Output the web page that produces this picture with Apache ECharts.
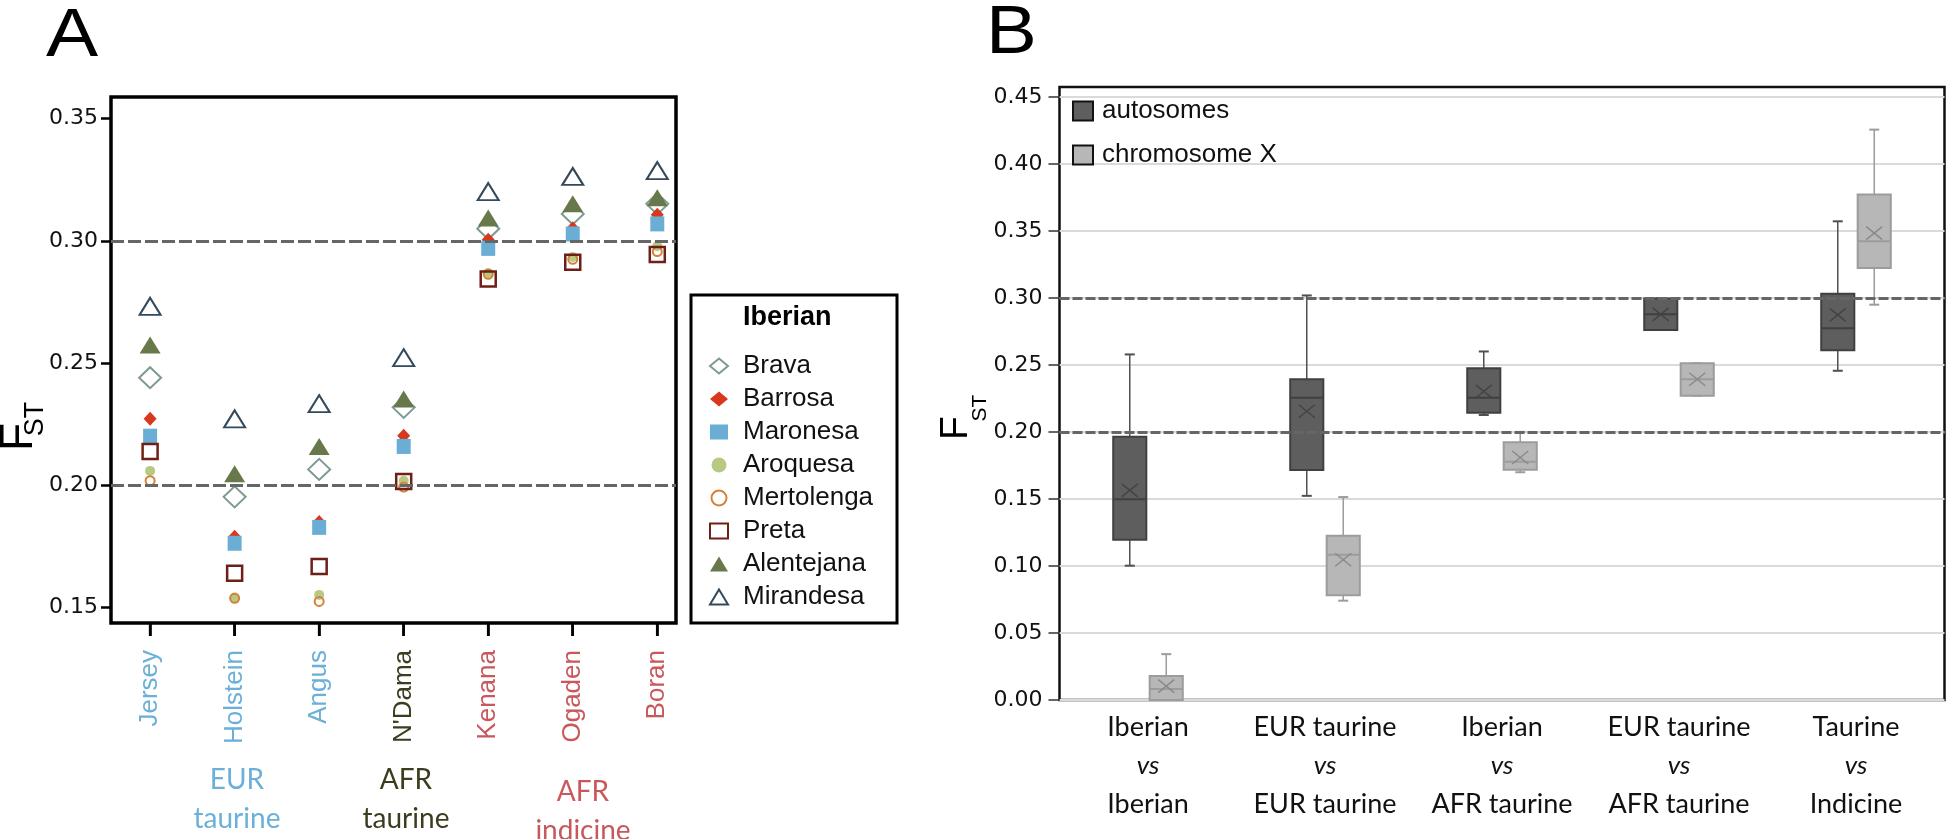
<!DOCTYPE html>
<html><head><meta charset="utf-8">
<script src="https://cdn.jsdelivr.net/npm/echarts@6/dist/echarts.min.js"></script>
<style>html,body{margin:0;padding:0;background:#fff}#c{width:1946px;height:839px}</style>
</head><body><div id="c"></div>
<script>
// ---------- Panel A data ----------
const crossbreeds = ['Jersey', 'Holstein', 'Angus', "N'Dama", 'Kenana', 'Ogaden', 'Boran'];
const crossbreedGroup = [0, 0, 0, 1, 2, 2, 2];
const groupNames = [['EUR', 'taurine'], ['AFR', 'taurine'], ['AFR', 'indicine']];
const iberianBreeds = ['Brava', 'Barrosa', 'Maronesa', 'Aroquesa', 'Mertolenga', 'Preta', 'Alentejana', 'Mirandesa'];
const brava      = [0.2440, 0.1953, 0.2065, 0.2319, 0.3049, 0.3110, 0.3151];
const barrosa    = [0.2272, 0.1790, 0.1850, 0.2203, 0.3004, 0.3051, 0.3106];
const maronesa   = [0.2201, 0.1763, 0.1828, 0.2159, 0.2969, 0.3028, 0.3069];
const aroquesa   = [0.2059, 0.1541, 0.1552, 0.2019, 0.2868, 0.2934, 0.2978];
const mertolenga = [0.2019, 0.1538, 0.1525, 0.1993, 0.2863, 0.2924, 0.2956];
const preta      = [0.2138, 0.1640, 0.1668, 0.2016, 0.2844, 0.2912, 0.2944];
const alentejana = [0.2574, 0.2047, 0.2159, 0.2353, 0.3093, 0.3151, 0.3176];
const mirandesa  = [0.2732, 0.2272, 0.2334, 0.2522, 0.3201, 0.3263, 0.3287];
const fstTicksA = [0.15, 0.20, 0.25, 0.30, 0.35];
const thresholds = [0.20, 0.30];

// ---------- Panel B data ----------
const comparisons = [['Iberian', 'Iberian'], ['EUR taurine', 'EUR taurine'], ['Iberian', 'AFR taurine'], ['EUR taurine', 'AFR taurine'], ['Taurine', 'Indicine']];
// [min, Q1, median, Q3, max, mean]
const autosomes = [
  [0.1002, 0.1196, 0.1498, 0.1963, 0.2578, 0.1564],
  [0.1523, 0.1715, 0.2255, 0.2393, 0.3018, 0.2154],
  [0.2126, 0.2142, 0.2255, 0.2475, 0.2600, 0.2302],
  [0.2760, 0.2760, 0.2877, 0.2996, 0.2996, 0.2877],
  [0.2456, 0.2610, 0.2773, 0.3030, 0.3571, 0.2873]
];
const chromosomeX = [
  [0.0000, 0.0000, 0.0082, 0.0179, 0.0342, 0.0104],
  [0.0741, 0.0782, 0.1083, 0.1225, 0.1514, 0.1046],
  [0.1699, 0.1718, 0.1777, 0.1922, 0.2000, 0.1809],
  [0.2270, 0.2270, 0.2393, 0.2512, 0.2512, 0.2393],
  [0.2949, 0.3222, 0.3423, 0.3771, 0.4255, 0.3483]
];
const fstTicksB = [0, 0.05, 0.10, 0.15, 0.20, 0.25, 0.30, 0.35, 0.40, 0.45];
const seriesNamesB = ['autosomes', 'chromosome X'];

// ---------- styles ----------
const breedValues = [brava, barrosa, maronesa, aroquesa, mertolenga, preta, alentejana, mirandesa];
const breedStyle = [
  {symbol: 'diamond',  size: [22, 21], fill: 'rgba(0,0,0,0)', stroke: '#7f9993', bw: 2},
  {symbol: 'diamond',  size: [13, 14], fill: '#d8391d', stroke: '#d8391d', bw: 0},
  {symbol: 'rect',     size: [14, 15], fill: '#6aaed6', stroke: '#6aaed6', bw: 0},
  {symbol: 'circle',   size: 10,       fill: '#b7c983', stroke: '#b7c983', bw: 0},
  {symbol: 'circle',   size: 9,        fill: 'rgba(0,0,0,0)', stroke: '#d4813a', bw: 2},
  {symbol: 'rect',     size: 15,       fill: 'rgba(0,0,0,0)', stroke: '#6e1f17', bw: 2.5},
  {symbol: 'triangle', size: [21, 17], fill: '#67794b', stroke: '#67794b', bw: 0},
  {symbol: 'triangle', size: [21, 17], fill: 'rgba(0,0,0,0)', stroke: '#34495a', bw: 2}
];
const labelColors = ['#6bb0d8', '#3c3c1e', '#c9585c'];
const sansA = 'Liberation Sans, Arial, sans-serif';
const tickFont = 'DejaVu Sans';
const narrow = 'Lato';

const scatterSeries = iberianBreeds.map((name, k) => ({
  name, type: 'scatter', xAxisIndex: 0, yAxisIndex: 0,
  symbol: breedStyle[k].symbol, symbolSize: breedStyle[k].size,
  itemStyle: {color: breedStyle[k].fill, borderColor: breedStyle[k].stroke, borderWidth: breedStyle[k].bw, opacity: 1},
  data: breedValues[k].map((v, i) => [i, v]),
  z: 3
}));

function boxRenderer(side, fill, stroke, whisker, meanColor) {
  return function (params, api) {
    const c = api.value(0);
    const bw = api.size([1, 0])[0];
    const x = api.coord([c, 0])[0] + side * bw * 0.103;
    const w = bw * 0.187;
    const y = (d) => api.coord([c, api.value(d)])[1];
    const yMin = y(1), yQ1 = y(2), yMed = y(3), yQ3 = y(4), yMax = y(5), yMean = y(6);
    const cap = 5, mx = 8, my = 6.5;
    const ln = (x1, y1, x2, y2, col, lw) => ({type: 'line', shape: {x1, y1, x2, y2}, style: {stroke: col, lineWidth: lw}});
    return {type: 'group', children: [
      ln(x, yMax, x, yQ3, whisker, 1.5),
      ln(x, yQ1, x, yMin, whisker, 1.5),
      ln(x - cap, yMax, x + cap, yMax, whisker, 2),
      ln(x - cap, yMin, x + cap, yMin, whisker, 2),
      {type: 'rect', shape: {x: x - w / 2, y: yQ3, width: w, height: yQ1 - yQ3}, style: {fill, stroke, lineWidth: 2}},
      ln(x - w / 2, yMed, x + w / 2, yMed, stroke, 2),
      ln(x - mx, yMean - my, x + mx, yMean + my, meanColor, 1.5),
      ln(x - mx, yMean + my, x + mx, yMean - my, meanColor, 1.5)
    ]};
  };
}

// category tick marks for panel A (below the plot frame, at each category position)
function tickRenderer(params, api) {
  const x = api.coord([api.value(0), api.value(1)])[0];
  const yb = params.coordSys.y + params.coordSys.height;
  return {type: 'line', shape: {x1: x, y1: yb, x2: x, y2: yb + 13}, style: {stroke: '#000', lineWidth: 2.5}};
}

const chart = echarts.init(document.getElementById('c'), null, {renderer: 'canvas'});
const option = {
  animation: false,
  backgroundColor: '#fff',
  grid: [
    {left: 111, top: 97, width: 565, height: 526, show: true, borderColor: '#000', borderWidth: 3.5, backgroundColor: 'transparent'},
    {left: 1059.5, top: 87, width: 885, height: 613, show: true, borderColor: '#111', borderWidth: 2.5, backgroundColor: 'transparent'},
    {left: 107.84, top: 97, width: 591.6, height: 526, show: false}
  ],
  xAxis: [
    {gridIndex: 0, type: 'value', min: -0.4626, max: 6.2214, show: false},
    {gridIndex: 1, type: 'category', data: comparisons.map(c => c[0]),
      axisLine: {show: false}, axisTick: {show: false}, splitLine: {show: false},
      axisLabel: {margin: 8, interval: 0,
        formatter: (v, i) => '{n|' + comparisons[i][0] + '}\n{v|vs}\n{n|' + comparisons[i][1] + '}',
        rich: {
          n: {fontFamily: narrow, fontSize: 27, color: '#111', lineHeight: 38.5},
          v: {fontFamily: narrow, fontSize: 26, fontStyle: 'italic', color: '#111', lineHeight: 38.5}
        }}
    },
    {gridIndex: 2, type: 'category', data: crossbreeds, boundaryGap: true, position: 'bottom',
      axisLine: {show: false, onZero: false}, splitLine: {show: false},
      axisTick: {show: true, alignWithLabel: true, interval: 0, length: 13, lineStyle: {color: '#000', width: 2.5}},
      axisLabel: {show: true, interval: 0, rotate: 90, margin: 27,
        formatter: (v, i) => '{g' + crossbreedGroup[i] + '|' + v + '}',
        rich: {
          g0: {color: labelColors[0], fontFamily: sansA, fontSize: 26},
          g1: {color: labelColors[1], fontFamily: sansA, fontSize: 26},
          g2: {color: labelColors[2], fontFamily: sansA, fontSize: 26}
        }}
    }
  ],
  yAxis: [
    {gridIndex: 0, type: 'value', min: 0.1437, max: 0.3588, position: 'left',
      axisLine: {show: false, onZero: false}, splitLine: {show: false},
      axisTick: {show: true, customValues: fstTicksA, length: 10, lineStyle: {color: '#000', width: 2.5}},
      axisLabel: {customValues: fstTicksA, margin: 13, formatter: (v) => v.toFixed(2), fontFamily: tickFont, fontSize: 22, color: '#111'}
    },
    {gridIndex: 1, type: 'value', min: 0, max: 0.4573,
      axisLine: {show: false, onZero: false},
      splitLine: {show: true, lineStyle: {color: '#dadada', width: 2}},
      axisTick: {show: true, customValues: fstTicksB, length: 11, lineStyle: {color: '#333', width: 1.5}},
      axisLabel: {customValues: fstTicksB, margin: 17, formatter: (v) => v.toFixed(2), fontFamily: tickFont, fontSize: 22, color: '#111'}
    },
    {gridIndex: 2, type: 'value', min: 0.1437, max: 0.3588, show: false}
  ],
  legend: [
    {data: iberianBreeds, orient: 'vertical', left: 709, top: 353, padding: 0, itemWidth: 18, itemHeight: 15, itemGap: 7,
      selectedMode: false, textStyle: {fontFamily: sansA, fontSize: 26, color: '#111', padding: [0, 0, 0, 10]}},
    {data: [
        {name: seriesNamesB[0], icon: 'rect', itemStyle: {color: '#5e5e5e', borderColor: '#111', borderWidth: 2}},
        {name: seriesNamesB[1], icon: 'rect', itemStyle: {color: '#b7b7b7', borderColor: '#111', borderWidth: 2}}
      ],
      orient: 'vertical', left: 1072, top: 98, padding: 0, itemWidth: 20, itemHeight: 19, itemGap: 18, selectedMode: false,
      textStyle: {fontFamily: sansA, fontSize: 26, color: '#111', padding: [0, 0, 0, 4]}}
  ],
  series: [
    ...scatterSeries,
    {type: 'line', name: 'thrA', xAxisIndex: 0, yAxisIndex: 0, data: [], silent: true,
      markLine: {silent: true, symbol: ['none', 'none'], label: {show: false},
        lineStyle: {color: '#666', width: 3, type: [13, 4]}, data: thresholds.map(v => ({yAxis: v}))}},
    {type: 'custom', name: seriesNamesB[0], xAxisIndex: 1, yAxisIndex: 1,
      itemStyle: {color: '#5e5e5e'},
      renderItem: boxRenderer(-1, '#5e5e5e', '#404040', '#505050', '#444'),
      encode: {x: 0, y: [1, 2, 3, 4, 5]},
      data: autosomes.map((s, i) => [i, ...s]), z: 3},
    {type: 'custom', name: seriesNamesB[1], xAxisIndex: 1, yAxisIndex: 1,
      itemStyle: {color: '#b7b7b7'},
      renderItem: boxRenderer(1, '#b7b7b7', '#9c9c9c', '#9c9c9c', '#8a8a8a'),
      encode: {x: 0, y: [1, 2, 3, 4, 5]},
      data: chromosomeX.map((s, i) => [i, ...s]), z: 3},
    {type: 'line', name: 'thrB', xAxisIndex: 1, yAxisIndex: 1, data: [], silent: true,
      markLine: {silent: true, symbol: ['none', 'none'], label: {show: false},
        lineStyle: {color: '#666', width: 3, type: [10, 3]}, data: thresholds.map(v => ({yAxis: v}))}},
    {type: 'custom', name: 'ticksA', xAxisIndex: 2, yAxisIndex: 2, silent: true, clip: false,
      renderItem: tickRenderer, encode: {x: 0, y: 1},
      data: crossbreeds.map((_, i) => [i, 0.2]), z: 5}
  ],
  graphic: [
    {type: 'text', x: 46, y: 3, scaleX: 1.15, style: {text: 'A', font: '68px ' + sansA, fill: '#000'}},
    {type: 'text', x: 986, y: 0, scaleX: 1.12, style: {text: 'B', font: '68px ' + sansA, fill: '#000'}},
    {type: 'text', x: 42, y: 437, rotation: Math.PI / 2, style: {text: 'F', font: '46px ' + sansA, fill: '#000', align: 'center', verticalAlign: 'bottom'}},
    {type: 'text', x: 49, y: 419, rotation: Math.PI / 2, style: {text: 'ST', font: '27px ' + sansA, fill: '#000', align: 'center', verticalAlign: 'bottom'}},
    {type: 'text', x: 976, y: 428, rotation: Math.PI / 2, style: {text: 'F', font: '39px ' + sansA, fill: '#000', align: 'center', verticalAlign: 'bottom'}},
    {type: 'text', x: 991, y: 408, rotation: Math.PI / 2, style: {text: 'ST', font: '21px ' + sansA, fill: '#000', align: 'center', verticalAlign: 'bottom'}},
    {type: 'rect', shape: {x: 691, y: 295, width: 206, height: 328}, style: {fill: 'none', stroke: '#000', lineWidth: 3}},
    {type: 'text', x: 743, y: 318, style: {text: 'Iberian', font: 'bold 27px ' + sansA, fill: '#000', align: 'left', verticalAlign: 'middle'}},
    {type: 'text', x: 237, y: 780, style: {text: groupNames[0][0], font: '28px ' + narrow, fill: labelColors[0], align: 'center', verticalAlign: 'middle'}},
    {type: 'text', x: 237, y: 819, style: {text: groupNames[0][1], font: '28px ' + narrow, fill: labelColors[0], align: 'center', verticalAlign: 'middle'}},
    {type: 'text', x: 406, y: 780, style: {text: groupNames[1][0], font: '28px ' + narrow, fill: labelColors[1], align: 'center', verticalAlign: 'middle'}},
    {type: 'text', x: 406, y: 819, style: {text: groupNames[1][1], font: '28px ' + narrow, fill: labelColors[1], align: 'center', verticalAlign: 'middle'}},
    {type: 'text', x: 583, y: 792, style: {text: groupNames[2][0], font: '28px ' + narrow, fill: labelColors[2], align: 'center', verticalAlign: 'middle'}},
    {type: 'text', x: 583, y: 831, style: {text: groupNames[2][1], font: '28px ' + narrow, fill: labelColors[2], align: 'center', verticalAlign: 'middle'}}
  ]
};
chart.setOption(option);
</script></body></html>
